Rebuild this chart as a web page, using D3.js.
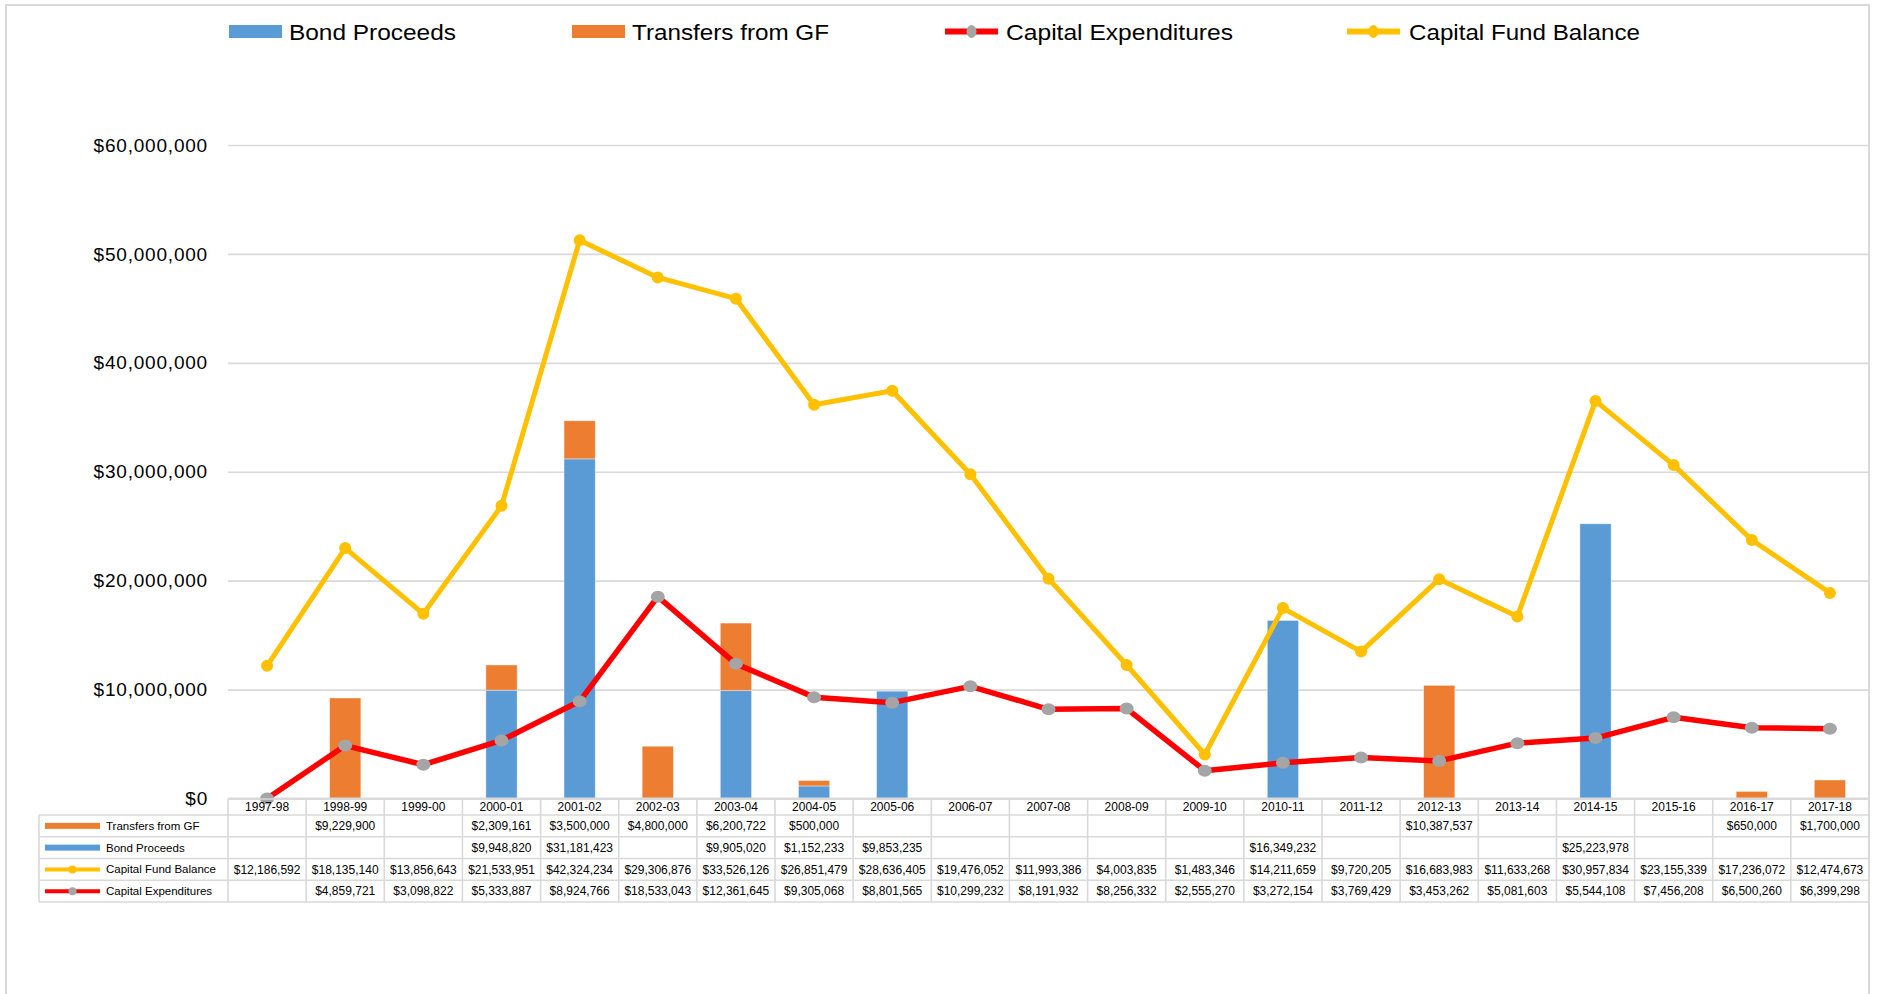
<!DOCTYPE html>
<html><head><meta charset="utf-8">
<script src="https://cdn.jsdelivr.net/npm/d3@7"></script>
<style>
html,body{margin:0;padding:0;background:#fff;}
svg{display:block;font-family:"Liberation Sans",Arial,sans-serif;}
</style></head>
<body>
<svg id="chart" width="1883" height="994"></svg>
<script>
const categories = ["1997-98","1998-99","1999-00","2000-01","2001-02","2002-03","2003-04","2004-05","2005-06","2006-07","2007-08","2008-09","2009-10","2010-11","2011-12","2012-13","2013-14","2014-15","2015-16","2016-17","2017-18"];
const transfersFromGF = [null,9229900,null,2309161,3500000,4800000,6200722,500000,null,null,null,null,null,null,null,10387537,null,null,null,650000,1700000];
const bondProceeds = [null,null,null,9948820,31181423,null,9905020,1152233,9853235,null,null,null,null,16349232,null,null,null,25223978,null,null,null];
const capitalFundBalance = [12186592,18135140,13856643,21533951,42324234,29306876,33526126,26851479,28636405,19476052,11993386,4003835,1483346,14211659,9720205,16683983,11633268,30957834,23155339,17236072,12474673];
const capitalExpenditures = [null,4859721,3098822,5333887,8924766,18533043,12361645,9305068,8801565,10299232,8191932,8256332,2555270,3272154,3769429,3453262,5081603,5544108,7456208,6500260,6399298];
const yTicks = [0,10000000,20000000,30000000,40000000,50000000,60000000];

(function(){
const C = {blue:"#5B9BD5", orange:"#ED7D31", red:"#FF0000", gray:"#A5A5A5", yellow:"#FFC000", grid:"#D9D9D9"};
const svg = d3.select("#chart");
const pLeft = 228, pRight = 1869, pTop = 145, pBottom = 798.5;

svg.append("rect").attr("x",6).attr("y",5).attr("width",1863).attr("height",1000)
  .attr("fill","none").attr("stroke",C.grid).attr("stroke-width",2);

const x = d3.scaleBand().domain(categories).range([pLeft,pRight]).paddingInner(0).paddingOuter(0);
const y = d3.scaleLinear().domain([0,60000000]).range([pBottom,pTop]);
const cx = d => x(d) + x.bandwidth()/2;

const yAxis = d3.axisLeft(y).tickValues(yTicks).tickFormat(d3.format("$,")).tickSizeInner(-(pRight-pLeft)).tickSizeOuter(0).tickPadding(20);
const ga = svg.append("g").attr("transform",`translate(${pLeft},0)`).call(yAxis);
ga.select(".domain").remove();
ga.selectAll(".tick line").attr("stroke",C.grid).attr("stroke-width",1.6);
ga.selectAll(".tick text").attr("fill","#000").style("font-size","19px").style("letter-spacing","0.8px")
  .style("font-family","'Liberation Sans',Arial,sans-serif");

const rows = categories.map((c,i)=>({cat:c, bond:bondProceeds[i]||0, transfer:transfersFromGF[i]||0}));
const stack = d3.stack().keys(["bond","transfer"])(rows);
const bw = x.bandwidth()*0.4;
const barColors = {bond:C.blue, transfer:C.orange};
stack.forEach(layer=>{
  svg.append("g").selectAll("rect").data(layer.filter(d=>d[1]>d[0])).join("rect")
    .attr("x",d=>cx(d.data.cat)-bw/2).attr("width",bw)
    .attr("y",d=>y(d[1])).attr("height",d=>y(d[0])-y(d[1]))
    .attr("fill",barColors[layer.key]).attr("stroke","#fff").attr("stroke-opacity",0.5).attr("stroke-width",0.8);
});

svg.append("line").attr("x1",pLeft).attr("x2",pRight).attr("y1",y(0)).attr("y2",y(0)).attr("stroke",C.grid).attr("stroke-width",2);

const capexPlot = categories.map((c,i)=>({cat:c, v:capitalExpenditures[i]||0}));
const balPlot = categories.map((c,i)=>({cat:c, v:(capitalExpenditures[i]||0)+capitalFundBalance[i]}));
const line = d3.line().x(d=>cx(d.cat)).y(d=>y(d.v));

svg.append("path").datum(capexPlot).attr("d",line).attr("fill","none").attr("stroke",C.red).attr("stroke-width",5.5).attr("stroke-linejoin","round");
svg.append("g").selectAll("ellipse").data(capexPlot).join("ellipse")
  .attr("cx",d=>cx(d.cat)).attr("cy",d=>y(d.v)).attr("rx",7).attr("ry",6).attr("fill",C.gray);

svg.append("path").datum(balPlot).attr("d",line).attr("fill","none").attr("stroke",C.yellow).attr("stroke-width",5).attr("stroke-linejoin","round");
svg.append("g").selectAll("circle").data(balPlot).join("circle")
  .attr("cx",d=>cx(d.cat)).attr("cy",d=>y(d.v)).attr("r",6).attr("fill",C.yellow);

const legend = [
  {name:"Bond Proceeds", type:"bar", color:C.blue, x0:229, tx:289, tw:167},
  {name:"Transfers from GF", type:"bar", color:C.orange, x0:572, tx:632, tw:197},
  {name:"Capital Expenditures", type:"line", color:C.red, mk:C.gray, x0:945, tx:1006, tw:227},
  {name:"Capital Fund Balance", type:"line", color:C.yellow, mk:C.yellow, x0:1347, tx:1409, tw:231}
];
const lg = svg.append("g");
legend.forEach(l=>{
  if(l.type==="bar"){
    lg.append("rect").attr("x",l.x0).attr("y",25).attr("width",53).attr("height",13).attr("fill",l.color);
  } else {
    lg.append("line").attr("x1",l.x0).attr("x2",l.x0+53).attr("y1",31.5).attr("y2",31.5).attr("stroke",l.color).attr("stroke-width",6);
    lg.append("ellipse").attr("cx",l.x0+26.5).attr("cy",31.5).attr("rx",5).attr("ry",6.5).attr("fill",l.mk);
  }
  lg.append("text").attr("x",l.tx).attr("y",39.5).attr("textLength",l.tw).attr("lengthAdjust","spacingAndGlyphs")
    .style("font-size","22px").attr("fill","#000").text(l.name);
});

const tRows = [
  {name:"Transfers from GF", vals:transfersFromGF, type:"bar", color:C.orange},
  {name:"Bond Proceeds", vals:bondProceeds, type:"bar", color:C.blue},
  {name:"Capital Fund Balance", vals:capitalFundBalance, type:"line", color:C.yellow, mk:C.yellow},
  {name:"Capital Expenditures", vals:capitalExpenditures, type:"line", color:C.red, mk:C.gray}
];
const hTop = 799, hBot = 815, rowH = 21.75, tLeft = 39;
const tb = svg.append("g");
const fmt = d3.format("$,");
tb.selectAll(".hdr").data(categories).join("text")
  .attr("x",d=>cx(d)).attr("y",(hTop+hBot)/2+4.3).attr("text-anchor","middle")
  .style("font-size","12px").attr("fill","#000").text(d=>d);
tRows.forEach((r,i)=>{
  const y0 = hBot + i*rowH, ym = y0 + rowH/2;
  if(r.type==="bar"){
    tb.append("rect").attr("x",45).attr("y",ym-3).attr("width",55).attr("height",6).attr("fill",r.color);
  } else {
    tb.append("line").attr("x1",45).attr("x2",100).attr("y1",ym).attr("y2",ym).attr("stroke",r.color).attr("stroke-width",4);
    tb.append("ellipse").attr("cx",72.5).attr("cy",ym).attr("rx",4).attr("ry",4).attr("fill",r.mk);
  }
  tb.append("text").attr("x",106).attr("y",ym+4).style("font-size","11.5px").attr("fill","#000").text(r.name);
  tb.append("g").selectAll("text").data(categories.map((c,j)=>({c,v:r.vals[j]})).filter(d=>d.v!=null)).join("text")
    .attr("x",d=>cx(d.c)).attr("y",ym+4.3).attr("text-anchor","middle").style("font-size","12px").attr("fill","#000")
    .text(d=>fmt(d.v));
});
const tBot = hBot + 4*rowH;
const gl = svg.append("g").attr("stroke",C.grid).attr("stroke-width",1.6);
gl.append("line").attr("x1",pLeft).attr("x2",pRight).attr("y1",hTop).attr("y2",hTop);
for(let i=0;i<=4;i++){
  const yy = hBot + i*rowH;
  gl.append("line").attr("x1",tLeft).attr("x2",pRight).attr("y1",yy).attr("y2",yy);
}
gl.append("line").attr("x1",tLeft).attr("x2",tLeft).attr("y1",hBot).attr("y2",tBot);
categories.forEach(c=>{
  gl.append("line").attr("x1",x(c)).attr("x2",x(c)).attr("y1",hTop).attr("y2",tBot);
});
gl.append("line").attr("x1",pRight).attr("x2",pRight).attr("y1",hTop).attr("y2",tBot);
})();
</script>
</body></html>
